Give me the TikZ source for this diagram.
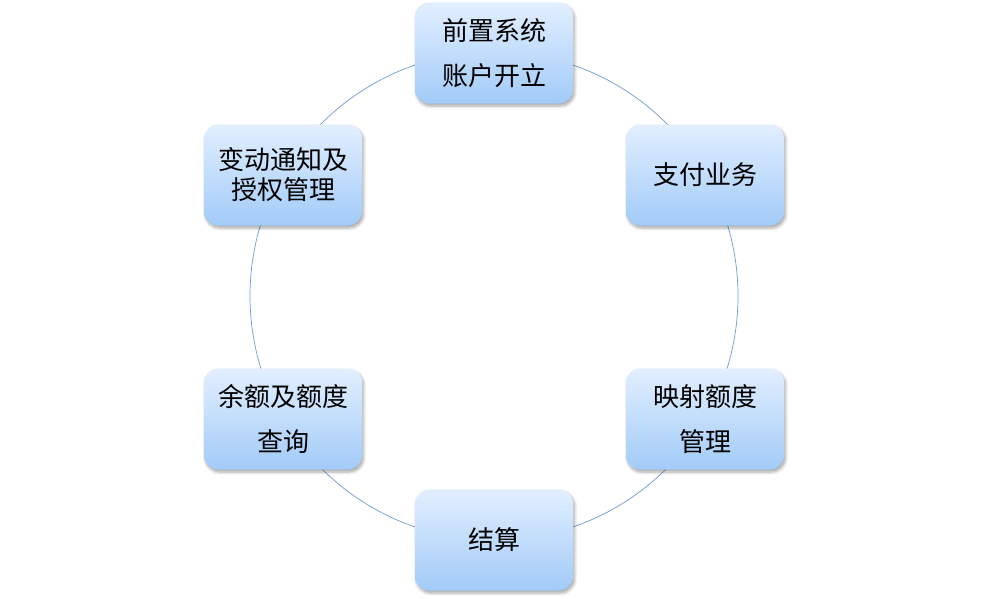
\documentclass[tikz,border=0pt]{standalone}
\usepackage{fontspec}
\setmainfont{Noto Sans CJK SC}
\usetikzlibrary{shadows.blur}
\definecolor{gtop}{HTML}{E2EFFF}
\definecolor{gbot}{HTML}{A2CBF8}
\definecolor{ring}{HTML}{6C9BD2}
\tikzset{
  box/.style={rectangle, rounded corners=14pt, minimum width=158pt, minimum height=101pt,
    top color=gtop, bottom color=gbot, draw=none, align=center,
    font=\fontsize{26}{45}\selectfont,
    blur shadow={shadow xshift=1.5pt, shadow yshift=-2.5pt, shadow blur steps=6, shadow blur radius=3pt, shadow opacity=35}},
  tight/.style={font=\fontsize{26}{30}\selectfont},
  ringline/.style={draw=ring, line width=0.7pt}
}
\begin{document}
\begin{tikzpicture}[x=1pt,y=-1pt]
\useasboundingbox (0,0) rectangle (988,598);
\coordinate (c) at (494,296);
\draw[ringline] (c) circle[radius=244pt];
\node[box] (a) at (494,53) {前置系统\\账户开立};
\node[box] (b) at (705,175) {支付业务};
\node[box] (d) at (705,419) {映射额度\\管理};
\node[box] (e) at (494,540) {结算};
\node[box] (f) at (283,419) {余额及额度\\查询};
\node[box,tight] (g) at (283,175) {变动通知及\\授权管理};
\end{tikzpicture}
\end{document}
